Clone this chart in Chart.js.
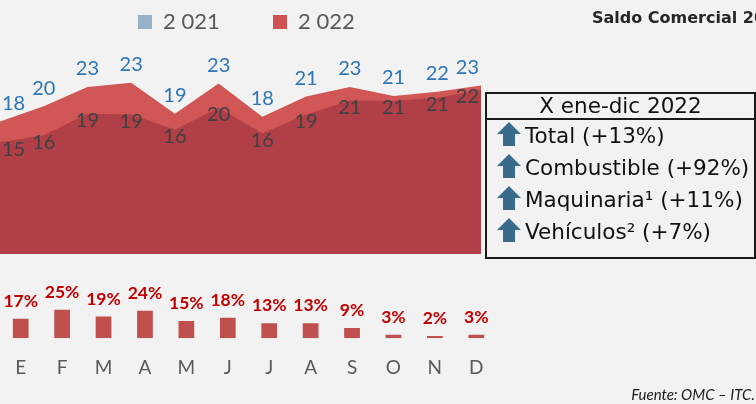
<!DOCTYPE html>
<html lang="es">
<head>
<meta charset="UTF-8">
<title>Saldo Comercial</title>
<script src="https://cdn.jsdelivr.net/npm/chart.js@4.4.0/dist/chart.umd.min.js"></script>
<style>
  body { margin: 0; background: #f2f2f2; }
  #wrap { position: relative; width: 756px; height: 404px; overflow: hidden; background: #f2f2f2; font-family: Lato, sans-serif; }
  canvas { position: absolute; left: 0; top: 0; }
  .sq { position: absolute; top: 15px; width: 14px; height: 14px; }
  .leg { position: absolute; top: 8px; font-size: 22px; line-height: 25px; color: #595959; white-space: nowrap; }
  #titulo { position: absolute; left: 592px; top: 8px; font: bold 16px/20px "DejaVu Sans", sans-serif; color: #262626; white-space: nowrap; }
  #caja { position: absolute; left: 485px; top: 92px; width: 271px; height: 167px; border: 2px solid #1a1a1a; box-sizing: border-box;
          font-family: "DejaVu Sans", sans-serif; font-size: 21.5px; color: #111; }
  #caja .cab { height: 24px; line-height: 24px; text-align: center; border-bottom: 2px solid #1a1a1a; white-space: nowrap; }
  #caja .fila { position: relative; height: 32px; line-height: 32px; white-space: nowrap; }
  #caja .fila span { position: absolute; left: 38px; top: 0; }
  .flecha { position: absolute; left: 10px; top: 2px; width: 24px; height: 24px; background: #386a8b;
            clip-path: polygon(50% 0, 100% 50%, 75% 50%, 75% 100%, 25% 100%, 25% 50%, 0 50%); }
  #fuente { position: absolute; right: 1px; top: 385px; font-style: italic; font-size: 15px; line-height: 18px; color: #1a1a1a; white-space: nowrap; }
</style>
</head>
<body>
<div id="wrap">
  <canvas id="area" width="756" height="404"></canvas>
  <canvas id="barras" width="756" height="404"></canvas>

  <div class="sq" style="left:138px;background:#97b1c6"></div>
  <div class="leg" style="left:163px">2 021</div>
  <div class="sq" style="left:273px;background:#d05252"></div>
  <div class="leg" style="left:298px">2 022</div>

  <div id="titulo">Saldo Comercial 2022</div>

  <div id="caja">
    <div class="cab">X ene-dic 2022</div>
    <div class="fila"><div class="flecha"></div><span>Total (+13%)</span></div>
    <div class="fila"><div class="flecha"></div><span>Combustible (+92%)</span></div>
    <div class="fila"><div class="flecha"></div><span>Maquinaria¹ (+11%)</span></div>
    <div class="fila"><div class="flecha"></div><span>Vehículos² (+7%)</span></div>
  </div>

  <div id="fuente">Fuente: OMC – ITC.</div>
</div>
<script>
// datos
const meses = ['E', 'F', 'M', 'A', 'M', 'J', 'J', 'A', 'S', 'O', 'N', 'D'];
const v2021 = [14.6, 15.6, 18.7, 18.6, 16.4, 19.6, 15.9, 18.6, 20.6, 20.6, 21.0, 22.2];
const v2022 = [17.6, 19.8, 22.6, 23.2, 18.7, 23.1, 18.3, 21.2, 22.6, 21.3, 21.9, 22.8];
const variacion = [17, 25, 19, 24, 15, 18, 13, 13, 9, 3, 2, 3]; // %

Chart.defaults.font.family = 'Lato';

// etiquetas de valor sobre las areas
const etiquetasArea = {
  id: 'etiquetasArea',
  afterDatasetsDraw(chart) {
    const ctx = chart.ctx;
    const area = chart.chartArea;
    ctx.save();
    ctx.font = '20px Lato';
    ctx.textAlign = 'center';
    ctx.textBaseline = 'middle';
    const estilos = [{ i: 0, color: '#404040', dy: 7 }, { i: 1, color: '#2e75b6', dy: -18 }];
    estilos.forEach(s => {
      chart.getDatasetMeta(s.i).data.forEach((p, k) => {
        const txt = String(Math.round(chart.data.datasets[s.i].data[k]));
        const half = ctx.measureText(txt).width / 2 + 2;
        const x = Math.min(Math.max(p.x, area.left + half), area.right - half);
        ctx.fillStyle = s.color;
        ctx.fillText(txt, x, p.y + s.dy);
      });
    });
    ctx.restore();
  }
};

const etiquetasBarras = {
  id: 'etiquetasBarras',
  afterDatasetsDraw(chart) {
    const ctx = chart.ctx;
    ctx.save();
    ctx.font = 'bold 17.5px Lato';
    ctx.textAlign = 'center';
    ctx.textBaseline = 'alphabetic';
    ctx.fillStyle = '#c00000';
    chart.getDatasetMeta(0).data.forEach((b, k) => {
      ctx.fillText(chart.data.datasets[0].data[k] + '%', b.x, b.y - 12);
    });
    ctx.restore();
  }
};

new Chart(document.getElementById('area'), {
  type: 'line',
  data: {
    labels: meses,
    datasets: [
      { label: '2 021', data: v2021, fill: 'start', backgroundColor: '#b03f47', borderColor: 'rgba(0,0,0,0)', borderWidth: 0, pointRadius: 0 },
      { label: '2 022', data: v2022, fill: 'start', backgroundColor: '#d15656', borderColor: 'rgba(0,0,0,0)', borderWidth: 0, pointRadius: 0 }
    ]
  },
  options: {
    responsive: false,
    animation: false,
    layout: { padding: { left: 0, right: 275, top: 40, bottom: 150 } },
    scales: {
      x: { display: false, offset: false },
      y: { display: false, min: -1.6, max: 29.4 }
    },
    plugins: { legend: { display: false }, tooltip: { enabled: false } }
  },
  plugins: [etiquetasArea]
});

new Chart(document.getElementById('barras'), {
  type: 'bar',
  data: {
    labels: meses,
    datasets: [{ data: variacion, backgroundColor: '#c0504d', barPercentage: 0.38, categoryPercentage: 1 }]
  },
  options: {
    responsive: false,
    animation: false,
    layout: { padding: { left: 0, right: 259, top: 280, bottom: 15 } },
    scales: {
      x: {
        grid: { display: false },
        border: { display: false },
        ticks: { color: '#595959', font: { family: 'Lato', size: 19 }, padding: 10, maxRotation: 0 }
      },
      y: { display: false, min: 0, max: 51 }
    },
    plugins: { legend: { display: false }, tooltip: { enabled: false } }
  },
  plugins: [etiquetasBarras]
});
</script>
</body>
</html>
